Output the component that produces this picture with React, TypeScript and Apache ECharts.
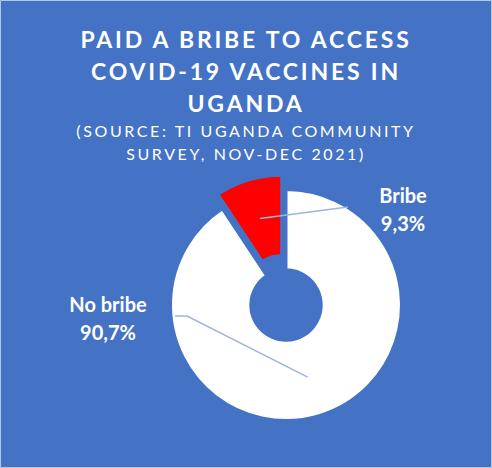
import React, { useEffect, useRef } from "react";
import * as echarts from "echarts";

const titleLines = ["PAID A BRIBE TO ACCESS", "COVID-19 VACCINES IN", "UGANDA"];
const subtitleLines = ["(SOURCE: TI UGANDA COMMUNITY", "SURVEY, NOV-DEC 2021)"];
const categories = ["No bribe", "Bribe"];
const values = [90.7, 9.3];
const colors = ["#FFFFFF", "#FF0000"];
const exploded = [false, true];

const BG = "#4472C4";
const CENTER = [286, 305];
const R_IN = 35.2;
const R_OUT = 115.5;
const OFFSET = 15;
const FONT = "Lato";
const LINE_COLOR = "#9DB4E2";

// label anchor and leader-line bend positions (styling)
const labelPos = [
  { x: 108, y: 318, bend: [187, 316], end: [175, 316] },
  { x: 403, y: 209, bend: [344, 207.5], end: [348, 207] },
];

const css = `
.chartbox text[style*="23px"] { letter-spacing: 2.8px; }
.chartbox text[style*="16px"] { letter-spacing: 2.6px; }
`;

export default function App() {
  const ref = useRef<HTMLDivElement>(null);
  useEffect(() => {
    if (!ref.current) return;
    const chart = echarts.init(ref.current, null, { renderer: "svg" });
    const total = values.reduce((a, b) => a + b, 0);
    const midDir = (i: number) => {
      let before = 0;
      for (let k = 0; k < i; k++) before += values[k];
      const th = ((before + values[i] / 2) / total) * Math.PI * 2;
      return [Math.sin(th), -Math.cos(th)];
    };
    const centers = categories.map((_, s) => {
      const d = midDir(s);
      const off = exploded[s] ? OFFSET : 0;
      return [CENTER[0] + d[0] * off, CENTER[1] + d[1] * off];
    });
    const leaderLines = categories.map((_, s) => {
      const d = midDir(s);
      const c = centers[s];
      const rm = (R_IN + R_OUT) / 2;
      const start = [c[0] + d[0] * rm, c[1] + d[1] * rm];
      const lp = labelPos[s];
      return {
        type: "polyline",
        shape: { points: [start, lp.bend, lp.end] },
        style: { stroke: LINE_COLOR, lineWidth: 1.5, fill: "none" },
        silent: true,
        z: 50,
      };
    });
    const series = categories.map((name, s) => {
      const c = centers[s];
      return {
        type: "pie",
        name,
        center: c,
        radius: [R_IN, R_OUT],
        startAngle: 90,
        clockwise: true,
        silent: true,
        z: 2 + s,
        emphasis: { disabled: true },
        data: categories.map((n, i) =>
          i === s
            ? {
                name: n,
                value: values[i],
                itemStyle: { color: colors[i], borderColor: BG, borderWidth: 3 },
              }
            : {
                name: n,
                value: values[i],
                itemStyle: { color: "transparent", borderWidth: 0 },
                label: { show: false },
              }
        ),
        label: {
          show: true,
          position: "outside",
          color: "#FFFFFF",
          fontFamily: FONT,
          fontWeight: "bold",
          fontSize: 20,
          lineHeight: 28,
          formatter: (p: any) =>
            p.name + "\n" + Number(p.value).toFixed(1).replace(".", ",") + "%",
        },
        labelLine: { show: false },
        labelLayout: (params: any) => {
          if (params.dataIndex !== s) return {};
          const lp = labelPos[s];
          return {
            x: lp.x,
            y: lp.y,
            align: "center",
            verticalAlign: "middle",
            hideOverlap: false,
          };
        },
      };
    });
    const option: any = {
      animation: false,
      backgroundColor: BG,
      title: {
        text: titleLines.join("\n"),
        subtext: subtitleLines.join("\n"),
        left: "center",
        top: 23,
        padding: 0,
        itemGap: 0,
        textStyle: {
          color: "#FFFFFF",
          fontFamily: FONT,
          fontWeight: "bold",
          fontSize: 23,
          lineHeight: 32,
        },
        subtextStyle: {
          color: "#FFFFFF",
          fontFamily: FONT,
          fontWeight: "normal",
          fontSize: 16,
          lineHeight: 23.3,
        },
      },
      graphic: [
        {
          type: "rect",
          shape: { x: 0.5, y: 0.5, width: 491, height: 467 },
          style: { fill: "none", stroke: "#B4C7E7", lineWidth: 1 },
          silent: true,
          z: 100,
        },
        ...leaderLines,
      ],
      series,
    };
    chart.setOption(option);
    return () => chart.dispose();
  }, []);
  return (
    <>
      <style>{css}</style>
      <div
        ref={ref}
        className="chartbox"
        style={{ position: "fixed", left: 0, top: 0, width: 492, height: 468 }}
      />
    </>
  );
}
